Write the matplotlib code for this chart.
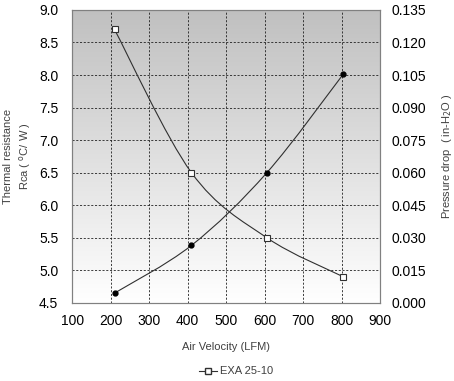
import numpy as np
import matplotlib.pyplot as plt
from matplotlib.colors import LinearSegmentedColormap
from matplotlib.path import Path
from matplotlib.patches import PathPatch
from matplotlib.lines import Line2D

plt.rcParams['font.family'] = ['Liberation Sans', 'DejaVu Sans']

# Data
velocity = [210, 410, 606, 805]
thermal_res = [8.7, 6.5, 5.5, 4.9]          # left axis, squares
pressure_drop = [0.0045, 0.0265, 0.060, 0.1055]  # right axis, dots

x_ticks = [100, 200, 300, 400, 500, 600, 700, 800, 900]
left_ticks = [4.5, 5.0, 5.5, 6.0, 6.5, 7.0, 7.5, 8.0, 8.5, 9.0]
right_ticks = [0.0, 0.015, 0.03, 0.045, 0.06, 0.075, 0.09, 0.105, 0.12, 0.135]


def smooth_path(xs, ys):
    # Catmull-Rom style bezier through the points (like Excel smoothed lines)
    pts = np.column_stack([xs, ys]).astype(float)
    verts = [pts[0]]
    codes = [Path.MOVETO]
    n = len(pts)
    for i in range(n - 1):
        p0 = pts[i - 1] if i > 0 else pts[i]
        p1, p2 = pts[i], pts[i + 1]
        p3 = pts[i + 2] if i + 2 < n else pts[i + 1]
        c1 = p1 + (p2 - p0) / 6.0
        c2 = p2 - (p3 - p1) / 6.0
        verts += [c1, c2, p2]
        codes += [Path.CURVE4] * 3
    return Path(verts, codes)


fig = plt.figure(figsize=(4.54, 3.81), dpi=100)
ax = fig.add_axes([0.159, 0.205, 0.678, 0.769])

# gray-to-white background gradient
grad = np.linspace(0, 1, 256).reshape(-1, 1)
bg_cmap = LinearSegmentedColormap.from_list('bg', ['#ffffff', '#c0c0c0'])
ax.imshow(grad, extent=[0, 1, 0, 1], transform=ax.transAxes, cmap=bg_cmap,
          aspect='auto', origin='lower', zorder=0)

ax.set_xlim(100, 900)
ax.set_ylim(4.5, 9.0)
ax.set_xticks(x_ticks)
ax.set_yticks(left_ticks)
ax.set_yticklabels([f'{v:.1f}' for v in left_ticks])
ax.grid(True, color='#202020', linestyle=(0, (2.5, 2)), linewidth=0.6, zorder=1)
ax.tick_params(axis='y', length=0, labelsize=10, pad=10)
ax.tick_params(axis='x', length=0, labelsize=10, pad=8)
for s in ax.spines.values():
    s.set_color('#808080')

ax2 = ax.twinx()
ax2.set_ylim(0, 0.135)
ax2.set_yticks(right_ticks)
ax2.set_yticklabels([f'{v:.3f}' for v in right_ticks])
ax2.tick_params(length=0, labelsize=10, pad=8)
for s in ax2.spines.values():
    s.set_color('#808080')

# thermal resistance curve
ax.add_patch(PathPatch(smooth_path(velocity, thermal_res), fill=False,
                       edgecolor='#303030', linewidth=0.8, zorder=3))
ax.plot(velocity, thermal_res, linestyle='none', marker='s', markersize=5,
        markerfacecolor='white', markeredgecolor='#303030',
        markeredgewidth=0.8, zorder=4)

# pressure drop curve
ax2.add_patch(PathPatch(smooth_path(velocity, pressure_drop), fill=False,
                        edgecolor='#303030', linewidth=0.8, zorder=3))
ax2.plot(velocity, pressure_drop, linestyle='none', marker='o', markersize=3.5,
         color='black', zorder=4)

ax.set_xlabel('Air Velocity (LFM)', fontsize=8, color='#404040', labelpad=10)
ax.set_ylabel('Thermal resistance\nRca ( $^{\\rm o}$C/ W )', fontsize=8,
              color='#404040', labelpad=4, linespacing=1.4)
ax2.set_ylabel('Pressure drop  ( in-H$_2$O )', fontsize=8, color='#404040',
               labelpad=10)

handle = Line2D([], [], color='#303030', linewidth=0.8, marker='s',
                markersize=5, markerfacecolor='white',
                markeredgecolor='#303030')
fig.legend([handle], ['EXA 25-10'], loc='center', bbox_to_anchor=(0.52, 0.025),
           frameon=False, fontsize=8, handlelength=1.6, handletextpad=0.3,
           labelcolor='#404040', borderpad=0.1)

fig.savefig('out.png', dpi=100)
